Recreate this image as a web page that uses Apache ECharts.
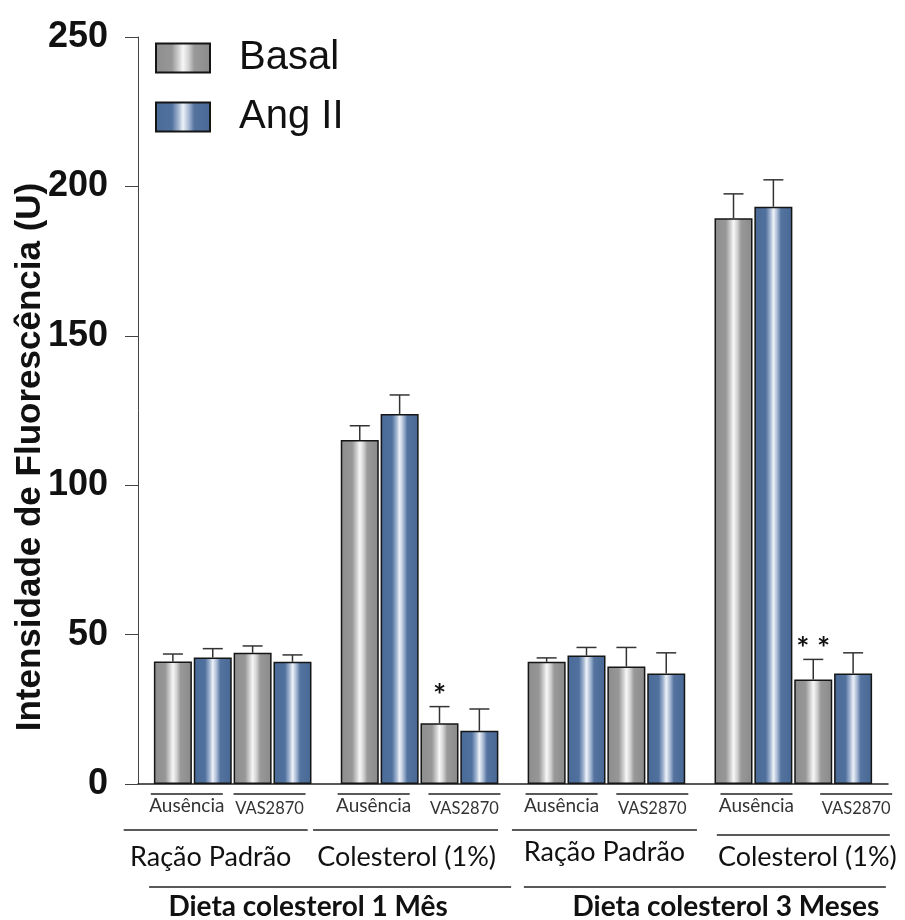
<!DOCTYPE html>
<html>
<head>
<meta charset="utf-8">
<script src="https://cdn.jsdelivr.net/npm/echarts@6/dist/echarts.min.js"></script>
<style>
  html, body { margin: 0; padding: 0; background: #fff; }
  #chart { width: 905px; height: 920px; }
</style>
</head>
<body>
<div id="chart"></div>
<script>
// Fluorescence intensity per diet / treatment, Basal vs Ang II
const periods = ['Dieta colesterol 1 Mês', 'Dieta colesterol 3 Meses'];
const diets = ['Ração Padrão', 'Colesterol (1%)', 'Ração Padrão', 'Colesterol (1%)'];
const treatments = ['Ausência', 'VAS2870'];
const seriesNames = ['Basal', 'Ang II'];
const yTitle = 'Intensidade de Fluorescência (U)';

// one value per (diet, treatment) pair, in the order the pairs appear
const basal    = [41.0, 43.9, 115.1, 20.3, 40.9, 39.3, 189.3, 35.0];
const basalErr = [2.5, 2.3, 4.8, 5.6, 1.3, 6.4, 8.2, 6.7];
const angII    = [42.3, 40.9, 123.8, 17.8, 43.0, 37.0, 193.2, 37.0];
const angIIErr = [3.0, 2.3, 6.4, 7.3, 2.7, 6.9, 9.0, 6.9];
const basalMarks = ['', '', '', '*', '', '', '', '**'];
const angIIMarks = ['', '', '', '', '', '', '', ''];

const yTicks = [0, 50, 100, 150, 200, 250];

// horizontal layout in "bar units" on a hidden value axis
const EDGE = 0.375;       // space before first / after last bar
const GROUP_GAP = 0.6875; // extra space between diet groups
const xMax = EDGE * 2 + diets.length * 4 + (diets.length - 1) * GROUP_GAP;
function xOf(pair, bar) {
  const g = Math.floor(pair / 2);
  return EDGE + g * (4 + GROUP_GAP) + (pair % 2) * 2 + bar + 0.5;
}

function barGradient(stops) {
  return { type: 'linear', x: 0, y: 0, x2: 1, y2: 0,
    colorStops: stops.map(s => ({ offset: s[0], color: s[1] })) };
}
const grayFill = barGradient([[0, '#8d8d8d'], [0.3, '#979797'], [0.42, '#cfcfcf'], [0.5, '#f7f7f7'],
  [0.6, '#d2d2d2'], [0.7, '#999999'], [1, '#8a8a8a']]);
const blueFill = barGradient([[0, '#4a6a98'], [0.3, '#50709e'], [0.42, '#a3b6d1'], [0.5, '#eef2f8'],
  [0.6, '#a9bbd5'], [0.7, '#54739f'], [1, '#486895']]);

const values = [basal, angII];
const errs = [basalErr, angIIErr];
const marks = [basalMarks, angIIMarks];
const fills = [grayFill, blueFill];

const arial = '"Liberation Sans", Arial, sans-serif';
const lbl = '"Lato", "Open Sans", sans-serif';

const barSeries = seriesNames.map((name, b) => ({
  name: name,
  type: 'bar',
  barWidth: 38,
  barGap: '-100%',
  data: values[b].map((v, p) => [xOf(p, b), v]),
  itemStyle: { color: fills[b], borderColor: '#151515', borderWidth: 1.5 },
  emphasis: { disabled: true },
  z: 2
}));

const errSeries = seriesNames.map((name, b) => ({
  name: name + ' erro',
  type: 'custom',
  data: values[b].map((v, p) => [xOf(p, b), v, errs[b][p]]),
  z: 3,
  silent: true,
  renderItem: function (params, api) {
    const x = api.value(0), v = api.value(1), e = api.value(2);
    const p0 = api.coord([x, v]);
    const p1 = api.coord([x, v + e]);
    const style = { stroke: '#333', lineWidth: 1.5 };
    const children = [
      { type: 'line', shape: { x1: p0[0], y1: p0[1], x2: p1[0], y2: p1[1] }, style: style },
      { type: 'line', shape: { x1: p1[0] - 10, y1: p1[1], x2: p1[0] + 10, y2: p1[1] }, style: style }
    ];
    const m = marks[b][params.dataIndex];
    if (m) {
      children.push({ type: 'text', x: p1[0], y: p1[1] + 5,
        style: { text: m.split('').join(' '), fill: '#111', font: 'bold 31px ' + lbl,
          align: 'center', verticalAlign: 'bottom' } });
    }
    return { type: 'group', children: children };
  }
}));

const chart = echarts.init(document.getElementById('chart'), null, { renderer: 'canvas' });

chart.setOption({
  animation: false,
  backgroundColor: '#ffffff',
  grid: { left: 138, right: 17, top: 37, bottom: 136 },
  legend: {
    data: seriesNames.map(n => ({ name: n, icon: 'rect' })),
    orient: 'vertical',
    left: 155,
    top: 38,
    padding: 0,
    itemWidth: 54,
    itemHeight: 29,
    itemGap: 19,
    selectedMode: false,
    textStyle: { fontFamily: arial, fontSize: 40, lineHeight: 29, color: '#111',
      padding: [0, 0, 0, 24] }
  },
  xAxis: {
    type: 'value',
    min: 0,
    max: xMax,
    axisLine: { show: true, lineStyle: { color: '#222', width: 1.5 } },
    axisTick: { show: false },
    axisLabel: { show: false },
    splitLine: { show: false }
  },
  yAxis: {
    type: 'value',
    min: yTicks[0],
    max: yTicks[yTicks.length - 1],
    interval: yTicks[1] - yTicks[0],
    axisLine: { show: true, lineStyle: { color: '#444', width: 1 } },
    axisTick: { show: true, inside: false, length: 13, lineStyle: { color: '#444', width: 1 } },
    axisLabel: { margin: 30, fontFamily: arial, fontWeight: 'bold', fontSize: 36, color: '#111' },
    splitLine: { show: false }
  },
  series: barSeries.concat(errSeries)
});

// category annotations under the axis, positioned through the x axis scale
const pairShift = [-6, -3, -6, 5, -5, 6, 3, 23];
const dietShift = [-17, -14, -2, 10];
const dietTextShift = [-22, -13, -2, 14];
const dietLine = [184, 185, 185, 173];
const periodShift = [4, 5];
const periodTextShift = [-18, 26];
const px = v => chart.convertToPixel({ xAxisIndex: 0 }, v);
const line = (x1, x2, y, w) => ({ type: 'line', shape: { x1: x1, y1: y, x2: x2, y2: y },
  style: { stroke: '#222', lineWidth: w || 1.4 }, silent: true });
const text = (t, x, y, font, color) => ({ type: 'text', x: x, y: y, silent: true,
  style: { text: t, font: font, fill: color || '#222', align: 'center', verticalAlign: 'middle' } });

const gfx = [];
// y axis title
gfx.push({ type: 'text', x: 30, y: 457, rotation: Math.PI / 2, silent: true,
  style: { text: yTitle, font: 'bold 35px ' + arial, fill: '#111', align: 'center', verticalAlign: 'middle' } });
for (let p = 0; p < basal.length; p++) {
  const c = (px(xOf(p, 0) - 0.5) + px(xOf(p, 1) + 0.5)) / 2 + pairShift[p];
  const t = treatments[p % 2];
  gfx.push(line(c - 36, c + 36, 794));
  if (p % 2 === 0) gfx.push(text(t, c, 806, '19px ' + lbl, '#333'));
  else gfx.push(text(t, c, 809, '16.5px ' + lbl, '#333'));
}
for (let g = 0; g < diets.length; g++) {
  const c = (px(xOf(g * 2, 0) - 0.5) + px(xOf(g * 2 + 1, 1) + 0.5)) / 2;
  const lc = c + dietShift[g];
  gfx.push(line(lc - dietLine[g] / 2, lc + dietLine[g] / 2, g === 3 ? 835 : 830));
  gfx.push(text(diets[g], c + dietTextShift[g], g === 2 ? 852 : 857, '27px ' + lbl, '#111'));
}
for (let k = 0; k < periods.length; k++) {
  const c = (px(xOf(k * 4, 0) - 0.5) + px(xOf(k * 4 + 3, 1) + 0.5)) / 2;
  const lc = c + periodShift[k];
  gfx.push(line(lc - 181, lc + 181, 887));
  gfx.push(text(periods[k], c + periodTextShift[k], 907, 'bold 28px ' + lbl, '#111'));
}
chart.setOption({ graphic: gfx });
</script>
</body>
</html>
